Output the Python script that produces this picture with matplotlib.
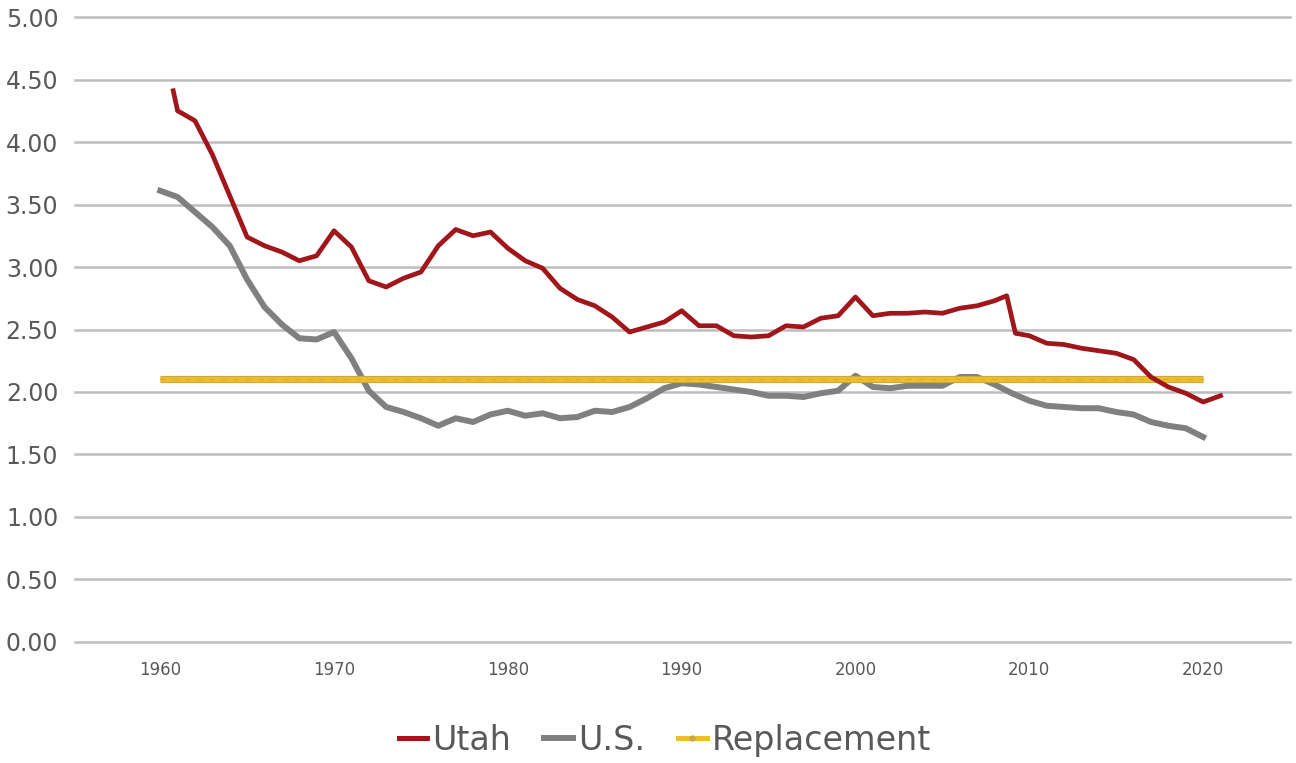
import matplotlib
matplotlib.use("Agg")
import matplotlib.pyplot as plt
from matplotlib.lines import Line2D

# ---- data ----
us_years = list(range(1960, 2021))
us_tfr = [3.61, 3.56, 3.44, 3.32, 3.17, 2.90, 2.68, 2.54, 2.43, 2.42,
          2.48, 2.27, 2.01, 1.88, 1.84, 1.79, 1.73, 1.79, 1.76, 1.82,
          1.85, 1.81, 1.83, 1.79, 1.80, 1.85, 1.84, 1.88, 1.95, 2.03,
          2.07, 2.06, 2.04, 2.02, 2.00, 1.97, 1.97, 1.96, 1.99, 2.01,
          2.13, 2.04, 2.03, 2.05, 2.05, 2.05, 2.12, 2.12, 2.06, 1.99,
          1.93, 1.89, 1.88, 1.87, 1.87, 1.84, 1.82, 1.76, 1.73, 1.71,
          1.64]

utah_years = [1960.75] + list(range(1961, 2009)) + [2008.7, 2009.2] + list(range(2010, 2022))
utah_tfr = [4.41, 4.25, 4.17, 3.90, 3.57, 3.24, 3.17, 3.12, 3.05, 3.09,
            3.29, 3.16, 2.89, 2.84, 2.91, 2.96, 3.17, 3.30, 3.25, 3.28,
            3.15, 3.05, 2.99, 2.83, 2.74, 2.69, 2.60, 2.48, 2.52, 2.56,
            2.65, 2.53, 2.53, 2.45, 2.44, 2.45, 2.53, 2.52, 2.59, 2.61,
            2.76, 2.61, 2.63, 2.63, 2.64, 2.63, 2.67, 2.69, 2.73,
            2.77, 2.47,
            2.45, 2.39, 2.38, 2.35, 2.33, 2.31, 2.26, 2.12, 2.04, 1.99,
            1.92, 1.97]

repl_years = [1960, 2020]
repl_tfr = [2.10, 2.10]

y_ticks = [0, 0.5, 1.0, 1.5, 2.0, 2.5, 3.0, 3.5, 4.0, 4.5, 5.0]
x_ticks = [1960, 1970, 1980, 1990, 2000, 2010, 2020]
series_labels = ["Utah", "U.S.", "Replacement"]

# ---- styling ----
c_utah = "#A0161B"
c_us = "#808080"
c_repl = "#EDBE2A"
c_text = "#595959"
c_grid = "#BDBDBD"

fig = plt.figure(figsize=(12.96, 7.63), dpi=100)
ax = fig.add_axes([0.0579, 0.1586, 0.9375, 0.8191])

for t in y_ticks:
    ax.axhline(t, color=c_grid, lw=1.8, zorder=0, clip_on=False)

ax.plot(repl_years, repl_tfr, color="#C9A646", lw=5.2, solid_capstyle="butt", zorder=2)
ax.plot(repl_years, repl_tfr, color=c_repl, lw=3.6, solid_capstyle="butt", zorder=2.1)
ax.plot(repl_years, repl_tfr, color="#D6AC35", lw=0.8, ls=(0, (5, 6)), zorder=2.2)
ax.plot(us_years, us_tfr, color=c_us, lw=4.3, solid_joinstyle="round", zorder=1.5)
ax.plot(utah_years, utah_tfr, color=c_utah, lw=3.4, solid_joinstyle="round", zorder=3)

ax.set_xlim(1955.1, 2025.0)
ax.set_ylim(0, 5)
ax.set_yticks(y_ticks)
ax.set_yticklabels([f"{v:.2f}" for v in y_ticks], fontsize=17, color=c_text)
ax.set_xticks(x_ticks)
ax.set_xticklabels([str(v) for v in x_ticks], fontsize=12, color=c_text)
ax.tick_params(axis="both", length=0)
ax.tick_params(axis="y", pad=12)
ax.tick_params(axis="x", pad=14)
for s in ax.spines.values():
    s.set_visible(False)

handles = [
    Line2D([0], [0], color=c_utah, lw=3.6),
    Line2D([0], [0], color=c_us, lw=4.3),
    Line2D([0], [0], color=c_repl, lw=3.6, marker="o", markersize=3.5,
           markevery=[1], markerfacecolor="#C9A646", markeredgecolor="#C9A646"),
]
fig.legend(handles, series_labels, loc="center", bbox_to_anchor=(0.513, 0.030),
           ncol=3, frameon=False, fontsize=24, handlelength=0.85,
           handletextpad=0.15, columnspacing=1.0, labelcolor=c_text)

fig.savefig("out.png", dpi=100)
